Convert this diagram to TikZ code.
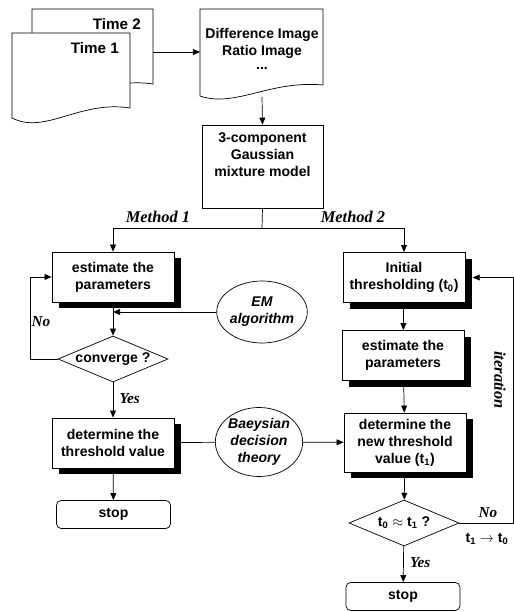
\documentclass[tikz,border=0pt]{standalone}
\usepackage{fontspec}
\setsansfont{Liberation Sans}
\newfontfamily\labelfont{Liberation Serif}
\usetikzlibrary{shapes.geometric, shadows, arrows.meta}
\tikzset{>={Triangle[length=6pt, width=5pt]}}
\tikzset{
    box/.style = {draw, fill=white, align=center, font=\sffamily\bfseries\fontsize{12}{14.5}\selectfont,
        minimum width=3.66cm, minimum height=1.5cm, inner sep=1pt,
        drop shadow={shadow xshift=0.22cm, shadow yshift=-0.18cm, fill=black, opacity=1}},
    plainbox/.style = {draw, fill=white, align=center, font=\sffamily\bfseries\fontsize{12}{14.5}\selectfont,
        minimum width=3.63cm, inner sep=1pt},
    stopbox/.style = {plainbox, rounded corners=4pt, minimum width=3.42cm, minimum height=0.84cm},
    decision/.style = {draw, diamond, fill=white, aspect=2.4, inner sep=0pt,
        font=\sffamily\bfseries\fontsize{12}{14.5}\selectfont, minimum width=3.3cm, minimum height=1.38cm},
    tool/.style = {draw, ellipse, fill=white, align=center, inner sep=0pt,
        font=\sffamily\bfseries\itshape\fontsize{12}{14.5}\selectfont},
    tag/.style = {font=\labelfont\bfseries\itshape\fontsize{13}{15}\selectfont},
    method/.style = {font=\labelfont\bfseries\itshape\fontsize{14}{16}\selectfont},
    doctext/.style = {font=\sffamily\bfseries\fontsize{12}{14.5}\selectfont}
}

\begin{document}
\begin{tikzpicture}[x=0.03cm, y=-0.03cm, line width=0.6pt]
    \useasboundingbox (0,0) rectangle (514,612);
    % input images
    \draw[fill=white] (32,84) -- (32,9) -- (153,9) -- (153,84)
        .. controls (102,76) and (67,111) .. (32,94);
    \draw[fill=white] (12,118) -- (12,33) -- (130,33) -- (130,108)
        .. controls (80,100) and (45,135) .. (12,118);
    \node[doctext, font=\sffamily\bfseries\fontsize{13}{15}\selectfont, anchor=east] (time2) at (145,24) {Time 2};
    \node[doctext, font=\sffamily\bfseries\fontsize{13}{15}\selectfont, anchor=east] (time1) at (123,48) {Time 1};
    \draw[fill=white] (200,96) -- (200,9) -- (323,9) -- (323,85)
        .. controls (270,80) and (235,108) .. (200,96);
    \node[doctext, align=center] (ratio) at (262,49) {Difference Image\\Ratio Image\\[-2pt]...};
    \coordinate (docout) at (153,52);
    \coordinate (docin) at (200,52);
    \coordinate (diffout) at (262,97);
    \draw[->] (docout) -- (docin);

    \node[plainbox, minimum height=2.49cm] (gmm) at (262.5,166.5) {3-component\\Gaussian\\mixture model\\[6pt]};
    \draw[->] (diffout) -- (gmm.north);
    \coordinate (split) at (262,228);

    % method 1
    \node[box] (est1) at (113,277) {estimate the\\parameters};
    \node[decision] (conv) at (113,359) {converge ?};
    \node[tool, minimum width=2.4cm, minimum height=1.86cm] (em) at (262,312) {EM\\algorithm};
    \node[box] (det1) at (113,443) {determine the\\threshold value};
    \node[tool, minimum width=2.49cm, minimum height=2.07cm] (bay) at (259,442) {Baeysian\\decision\\theory};
    \node[stopbox] (stop1) at (113.5,514.5) {stop};

    % method 2
    \node[box] (init) at (404,277.5) {Initial\\thresholding (t\textsubscript{0})};
    \node[box] (est2) at (403,355.5) {estimate the\\parameters};
    \node[box, minimum height=1.77cm] (det2) at (405,442.5) {determine the\\new threshold\\value (t\textsubscript{1})};
    \node[decision] (conv2) at (404,523) {t\textsubscript{0} $\approx$ t\textsubscript{1} ?};
    \node[stopbox] (stop2) at (403,596.5) {stop};

    \draw (gmm.south) -- (split);
    \draw[->] (split) -| (est1.north);
    \draw[->] (split) -| (init.north);
    \node[method] at (158,217) {Method 1};
    \node[method] at (353,217) {Method 2};

    \draw[->] (est1) -- (conv);
    \draw[->] (em) -- (em -| est1);
    \draw[->] (conv.west) -- ++(-27,0) |- (est1.west);
    \node[tag] at (41,322) {No};
    \draw[->] (conv) -- (det1) node[tag, pos=0.45, right=2pt] {Yes};
    \draw[->] (det1) -- (stop1);
    \draw (bay) -- (det1);
    \draw[->] (bay) -- (det2);

    \draw[->] (init) -- (est2);
    \draw[->] (est2) -- (det2);
    \draw[->] (det2) -- (conv2);
    \draw[->] (conv2) -- (stop2) node[tag, pos=0.45, right=2pt] {Yes};
    \draw[->, shorten >=0.22cm] (conv2.east) -- (513,523) |- (init.east);
    \node[tag] at (488,513) {No};
    \node[doctext] at (487,539) {t\textsubscript{1} $\rightarrow$ t\textsubscript{0}};
    \node[tag, font=\labelfont\bfseries\itshape\fontsize{14}{16}\selectfont, rotate=-90] at (500,380) {iteration};
\end{tikzpicture}
\end{document}
